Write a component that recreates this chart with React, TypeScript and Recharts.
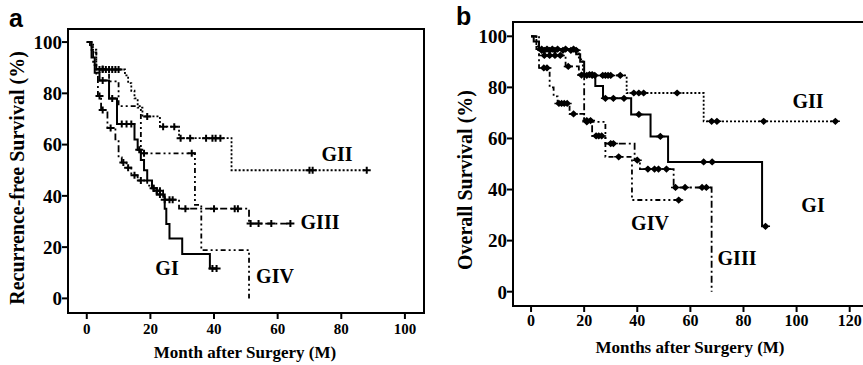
import { ComposedChart, Line, XAxis, YAxis, ReferenceArea } from "recharts"

// panel a: recurrence-free survival
const aTicksX = [0, 20, 40, 60, 80, 100]
const aGI_t = [0, 1.5, 2.5, 4, 7, 9.5, 15, 16, 17, 18, 19, 20.5, 22, 24.5, 25, 26, 30, 38.7]
const aGI_s = [100, 94, 88, 85, 78, 68, 62, 58, 54, 50, 46, 43, 40.5, 35, 29, 23.4, 17.3, 11.7]
const aGI_c = [5, 8, 11, 12.5, 14, 16.5, 21, 23, 39.5, 40.8]
const aGII_t = [0, 1.5, 3, 12, 13, 14, 15, 16, 17.5, 23, 29, 45.5]
const aGII_s = [100, 97, 89.3, 87, 84, 81, 78, 74.4, 71, 67, 62.5, 50]
const aGII_c = [4, 5, 6, 7, 8, 9, 10, 19, 24, 27.5, 29.5, 32.5, 37.5, 39.5, 40.5, 42, 70, 71, 88]
const aGIII_t = [0, 1, 2, 3, 3.5, 4.5, 6.5, 9, 10, 11, 12.5, 14, 16, 19, 21, 24, 29, 51]
const aGIII_s = [100, 98, 91, 87, 79, 73.5, 66.5, 62, 55, 53, 51, 48, 46, 44, 42, 38.5, 35, 29.2]
const aGIII_c = [4, 5, 7.5, 11.5, 13, 15, 17, 22, 23, 24.5, 26, 27, 31, 40, 46.5, 47.5, 51.5, 54, 58, 64]
const aGIV_t = [0, 2, 3, 7, 10, 17, 34, 36, 51]
const aGIV_s = [100, 96, 89.5, 84.7, 75, 56.6, 36.5, 18.8, 0]
const aGIV_c = [5, 18, 33]

// panel b: overall survival
const bTicksX = [0, 20, 40, 60, 80, 100, 120]
const bGI_t = [0, 1, 3, 17, 18.5, 20, 24.2, 27.1, 37.7, 45, 51.6, 87]
const bGI_s = [100, 98, 95, 93, 90, 85, 80.5, 75.7, 69.4, 60.8, 50.8, 25.6]
const bGI_c = [4, 6, 8, 10, 13, 16, 22, 23, 28, 31, 35, 40.6, 48.7, 65, 68.2, 88.3]
const bGII_t = [0, 2, 3, 18, 19.5, 36, 65]
const bGII_s = [100, 96, 94.5, 91, 84.7, 77.8, 66.7]
const bGII_c = [4, 5, 7, 9, 12, 15, 17, 21, 23, 24, 27, 28, 29, 30, 33.6, 38.7, 40.6, 42.4, 55, 68, 70, 87.6, 114.6]
const bGIII_t = [0, 2, 3, 13, 18, 20, 23, 28, 39, 41, 53.7, 68]
const bGIII_s = [100, 95, 92.5, 88.2, 84.8, 67, 61, 58, 51.5, 48, 40.8, 0]
const bGIII_c = [5, 7, 9, 11, 14, 19, 21, 22.4, 24.5, 25.5, 26.6, 30, 31, 40, 44, 46.5, 48, 51, 54.4, 58, 64.4, 66]
const bGIV_t = [0, 3, 7, 8.5, 10, 14.5, 20, 28, 38]
const bGIV_s = [100, 87.6, 80, 76.5, 73.7, 69.6, 66.5, 52.8, 35.9]
const bGIV_c = [4.8, 6, 10.5, 11.5, 12.5, 13.6, 16, 21, 33, 55.6]

const yTicks = [0, 20, 40, 60, 80, 100]

type Pt = { x: number; y: number; c: boolean }

function km(times: number[], surv: number[], cens: number[]): Pt[] {
  const level = (t: number) => {
    let v = surv[0]
    times.forEach((tt, i) => {
      if (tt <= t) v = surv[i]
    })
    return v
  }
  const pts: Pt[] = times.map((t, i) => ({ x: t, y: surv[i], c: false }))
  cens.forEach((t) => pts.push({ x: t, y: level(t), c: true }))
  pts.sort((p, q) => p.x - q.x)
  return pts
}

const plusMark = (props: any) => {
  const { cx, cy, payload, index } = props
  if (!payload || !payload.c || cx == null) return <g key={index} />
  return (
    <path
      key={index}
      d={`M${cx - 4},${cy}H${cx + 4}M${cx},${cy - 3.5}V${cy + 3.5}`}
      stroke="#000"
      strokeWidth={2}
      fill="none"
    />
  )
}

const diamondMark = (props: any) => {
  const { cx, cy, payload, index } = props
  if (!payload || !payload.c || cx == null) return <g key={index} />
  return (
    <path
      key={index}
      d={`M${cx - 4.5},${cy}H${cx + 4.5}M${cx - 2.8},${cy}L${cx},${cy - 2.6}L${cx + 2.8},${cy}L${cx},${cy + 2.6}Z`}
      stroke="#000"
      strokeWidth={1.5}
      fill="#000"
    />
  )
}

const serif = "'Liberation Serif', 'Times New Roman', serif"

const xTick = (size: number) => (props: any) => (
  <text
    x={props.x}
    y={props.y}
    dy="0.71em"
    textAnchor="middle"
    fill="#000"
    style={{ fontFamily: serif, fontWeight: 700, fontSize: size }}
  >
    {props.payload.value}
  </text>
)

const yTick = (props: any) => (
  <text
    x={props.x}
    y={props.y}
    dy="0.36em"
    textAnchor="end"
    fill="#000"
    style={{ fontFamily: serif, fontWeight: 700, fontSize: 19 }}
  >
    {props.payload.value}
  </text>
)

type Series = { pts: Pt[]; dash?: string }

function Panel(props: {
  left: number
  width: number
  margin: { top: number; right: number; bottom: number; left: number }
  yWidth: number
  xHeight: number
  xDomain: [number, number]
  yDomain: [number, number]
  xTicks: number[]
  xFont: number
  xMargin: number
  series: Series[]
  mark: (p: any) => any
}) {
  const p = props
  return (
    <div style={{ position: "absolute", left: p.left, top: 0 }}>
      <ComposedChart width={p.width} height={365} margin={p.margin}>
        <XAxis
          type="number"
          dataKey="x"
          domain={p.xDomain}
          ticks={p.xTicks}
          interval={0}
          allowDataOverflow
          height={p.xHeight}
          tickSize={6}
          tickMargin={p.xMargin}
          axisLine={{ stroke: "#000", strokeWidth: 2 }}
          tickLine={{ stroke: "#000", strokeWidth: 2 }}
          tick={xTick(p.xFont)}
        />
        <YAxis
          type="number"
          dataKey="y"
          domain={p.yDomain}
          ticks={yTicks}
          interval={0}
          allowDataOverflow
          width={p.yWidth}
          tickSize={6}
          tickMargin={0}
          axisLine={{ stroke: "#000", strokeWidth: 2 }}
          tickLine={{ stroke: "#000", strokeWidth: 2 }}
          tick={yTick}
        />
        <ReferenceArea
          x1={p.xDomain[0]}
          x2={p.xDomain[1]}
          y1={p.yDomain[0]}
          y2={p.yDomain[1]}
          fill="none"
          stroke="#000"
          strokeWidth={2}
          ifOverflow="visible"
        />
        {p.series.map((s, i) => (
          <Line
            key={i}
            data={s.pts}
            dataKey="y"
            type="stepAfter"
            stroke="#000"
            strokeWidth={s.dash ? 1.8 : 2}
            strokeDasharray={s.dash}
            dot={p.mark}
            activeDot={false}
            legendType="none"
            isAnimationActive={false}
          />
        ))}
      </ComposedChart>
    </div>
  )
}

const txt = (x: number, y: number, s: string, size: number, rotate = false) => (
  <div
    style={{
      position: "absolute",
      left: x,
      top: y,
      transform: `translate(-50%, -50%)${rotate ? " rotate(-90deg)" : ""}`,
      fontFamily: serif,
      fontWeight: 700,
      fontSize: size,
      whiteSpace: "nowrap",
      lineHeight: 1.2,
      color: "#000",
    }}
  >
    {s}
  </div>
)

const panelLetter = (x: number, y: number, s: string) => (
  <div
    style={{
      position: "absolute",
      left: x,
      top: y,
      fontFamily: "'Liberation Sans', Arial, sans-serif",
      fontWeight: 700,
      fontSize: 25,
      lineHeight: 1.2,
    }}
  >
    {s}
  </div>
)

export default function App() {
  const aSeries: Series[] = [
    { pts: km(aGI_t, aGI_s, aGI_c) },
    { pts: km(aGII_t, aGII_s, aGII_c), dash: "2 2" },
    { pts: km(aGIII_t, aGIII_s, aGIII_c), dash: "7 3 2 3" },
    { pts: km(aGIV_t, aGIV_s, aGIV_c), dash: "5 3 2 3 2 3" },
  ]
  const bSeries: Series[] = [
    { pts: km(bGI_t, bGI_s, bGI_c) },
    { pts: km(bGII_t, bGII_s, bGII_c), dash: "2 2" },
    { pts: km(bGIII_t, bGIII_s, bGIII_c), dash: "7 3 2 3" },
    { pts: km(bGIV_t, bGIV_s, bGIV_c), dash: "5 3 2 3 2 3" },
  ]
  return (
    <div
      style={{
        position: "absolute",
        left: 0,
        top: 0,
        width: 863,
        height: 365,
        overflow: "hidden",
        background: "#fff",
      }}
    >
      <Panel
        left={0}
        width={430}
        margin={{ top: 29, right: 6, bottom: 0, left: 0 }}
        yWidth={68}
        xHeight={52}
        xDomain={[-5.9, 106]}
        yDomain={[-5.7, 105.1]}
        xTicks={aTicksX}
        xFont={15}
        xMargin={4}
        series={aSeries}
        mark={plusMark}
      />
      <Panel
        left={430}
        width={470}
        margin={{ top: 22, right: 11, bottom: 0, left: 0 }}
        yWidth={83}
        xHeight={59}
        xDomain={[-6.8, 134.8]}
        yDomain={[-5.6, 105.6]}
        xTicks={bTicksX}
        xFont={16}
        xMargin={3}
        series={bSeries}
        mark={diamondMark}
      />
      {panelLetter(9, 3, "a")}
      {panelLetter(456, 1, "b")}
      {txt(17, 178, "Recurrence-free Survival (%)", 20, true)}
      {txt(245, 353, "Month after Surgery (M)", 17)}
      {txt(465, 180, "Overall Survival (%)", 20, true)}
      {txt(690, 348, "Months after Surgery (M)", 17)}
      {txt(337, 154, "GII", 20)}
      {txt(320, 222, "GIII", 20)}
      {txt(167, 268, "GI", 20)}
      {txt(275, 276, "GIV", 20)}
      {txt(808, 101, "GII", 20)}
      {txt(813, 205, "GI", 20)}
      {txt(650, 223, "GIV", 20)}
      {txt(737, 258, "GIII", 20)}
    </div>
  )
}
